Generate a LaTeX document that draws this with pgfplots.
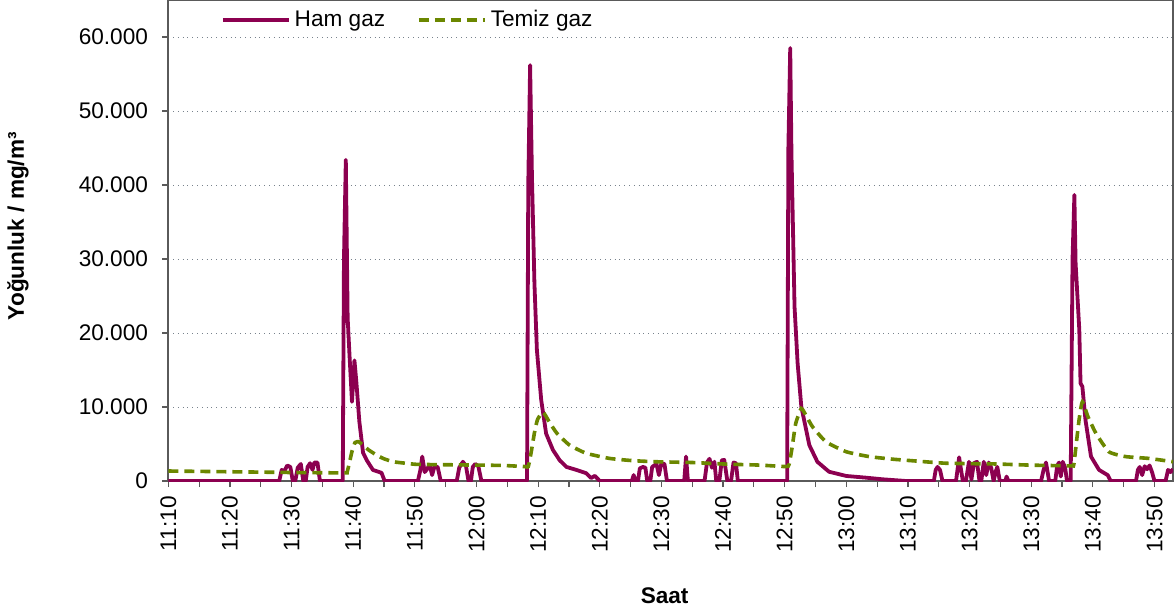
\documentclass[border=0pt]{standalone}
\usepackage{pgfplots}
\pgfplotsset{compat=1.18}
\usepackage{fontspec}
\setmainfont{Liberation Sans}
\definecolor{hamc}{RGB}{140,0,80}
\definecolor{temc}{RGB}{107,135,0}
\definecolor{axc}{RGB}{90,90,90}
\definecolor{gridc}{RGB}{120,130,140}
\begin{document}
\begin{tikzpicture}
\begin{axis}[
  scale only axis,
  width=502.35pt, height=240.5pt,
  xmin=0, xmax=163, ymin=0, ymax=65000,
  font=\fontsize{11.3}{13.5}\selectfont,
  axis line style={draw=axc, line width=0.8pt},
  tick style={draw=axc, line width=0.6pt},
  tick align=outside,
  major tick length=3pt, minor tick length=3pt,
  xtick={0,10,...,160},
  xticklabels={11:10,11:20,11:30,11:40,11:50,12:00,12:10,12:20,12:30,12:40,12:50,13:00,13:10,13:20,13:30,13:40,13:50},
  minor xtick={5,15,...,165},
  xticklabel style={rotate=90, anchor=east, inner sep=1pt, xshift=-3.5pt},
  ytick={0,10000,...,60000},
  yticklabels={0,10.000,20.000,30.000,40.000,50.000,60.000},
  yticklabel style={inner sep=2pt, xshift=-5pt},
  ymajorgrids,
  major grid style={draw=gridc, dotted, line width=0.5pt},
  xlabel={\bfseries Saat},
  ylabel={\bfseries Yoğunluk / mg/m³},
  xlabel style={at={(axis description cs:0.494,-0.239)}, anchor=center},
  ylabel style={at={(axis description cs:-0.1496,0.53)}, anchor=center},
  legend columns=2,
  legend style={draw=none, fill=none, at={(axis description cs:0.046,0.958)}, anchor=west,
    /tikz/every even column/.append style={column sep=14pt},
    font=\fontsize{11.3}{13.5}\selectfont},
  legend image code/.code={\draw[#1] (0pt,0pt) -- (33pt,0pt);},
  legend cell align=left,
]
\addplot[hamc, line width=1.9pt, line join=round] coordinates {
(0,0)(18,0)(18.4,1500)(18.8,1300)(19.3,2100)(19.8,1900)(20.2,0)(20.6,0)(21.0,1800)(21.5,2300)(21.9,0)(22.3,0)(22.6,1900)(23.0,2400)(23.4,1500)(23.7,2500)(24.2,2500)(24.6,0)
(28.3,0)(28.5,30000)(28.8,43400)(29.1,22000)(29.4,17000)(29.8,10700)(30.2,16300)(30.5,13500)(31.0,8000)(31.6,3800)(32.2,2800)(33.2,1500)(34.6,1100)(35.1,0)
(40.5,0)(40.9,1500)(41.2,3300)(41.6,1200)(41.9,1500)(42.4,2200)(42.8,800)(43.2,2000)(43.7,1900)(44.2,0)(46.8,0)(47.2,1800)(47.8,2600)(48.3,2000)(48.7,0)(49.1,0)(49.4,1900)(49.8,2300)(50.3,2000)(50.8,0)
(58.2,0)(58.4,40000)(58.7,56200)(59.0,41100)(59.4,26750)(59.8,17700)(60.5,10950)(61.3,6400)(62.4,4200)(63.5,2800)(64.6,1900)(66.2,1500)(67.8,1050)(68.6,400)(69.2,700)(70,0)
(75.2,0)(75.5,800)(75.8,0)(76.2,0)(76.5,1700)(77.0,1900)(77.4,1800)(77.7,0)(78.2,0)(78.5,1900)(79.2,2300)(79.6,800)(80.0,2400)(80.5,2300)(80.9,0)(83.7,0)(84.0,3300)(84.3,0)
(87.0,0)(87.4,2500)(87.8,3000)(88.2,1800)(88.6,2600)(88.9,0)(89.4,0)(89.8,2800)(90.2,2850)(90.7,0)(91.3,0)(91.7,2500)(92.1,2400)(92.4,0)
(100.4,0)(100.6,45000)(100.9,58500)(101.1,44300)(101.6,23550)(102.1,15900)(102.7,10050)(104.0,4850)(105.3,2600)(107.2,1250)(110,680)(113.2,450)(115.9,230)(119.7,0)
(124.2,0)(124.5,1500)(124.8,1900)(125.2,1500)(125.6,0)(127.8,0)(128.3,3200)(128.9,0)(129.4,0)(129.9,2600)(130.3,200)(130.7,2400)(131.2,2600)(131.6,0)(131.9,0)(132.3,2600)(132.7,800)(133.1,2500)(133.5,1800)(133.9,0)(134.2,1200)(134.5,1900)(134.9,0)(135.8,0)(136.0,600)(136.3,0)
(141.6,0)(142.0,1500)(142.4,2500)(142.9,0)(143.9,0)(144.2,2000)(144.5,2500)(144.8,600)(145.1,2600)(145.5,1800)(145.8,0)
(146.4,0)(146.7,30000)(147.0,38650)(147.2,29400)(147.8,20400)(148.0,13200)(148.3,12750)(148.8,8250)(149.7,3300)(151.0,1500)(152.4,800)(152.9,0)
(157.0,0)(157.3,1500)(157.6,1900)(158.0,800)(158.4,2000)(158.8,1600)(159.2,2100)(159.6,1200)(160.0,0)(161.8,0)(162.2,1500)(162.6,1200)(163,1600)
};
\addlegendentry{Ham gaz}
\addplot[temc, line width=1.8pt, dash pattern=on 5pt off 3pt, smooth, tension=0.3] coordinates {
(0,1350)(10,1250)(20,1150)(28.5,1100)(29.0,1200)(29.4,2500)(29.8,4000)(30.3,5200)(30.9,5300)(31.5,4900)(32.5,4200)(33.8,3500)(35,3000)(36.5,2600)(38.5,2400)(40.3,2250)(45,2200)(50,2150)(54.3,2100)(57.9,1950)
(58.4,1950)(58.9,4000)(59.4,6500)(59.9,8300)(60.8,9300)(61.8,8000)(63.0,6500)(65.1,4850)(67.8,3750)(71.6,3050)(75.4,2750)(79.2,2600)(85,2500)(90,2300)(95.9,2150)(100.2,1950)
(100.7,2200)(101.2,4500)(101.8,7800)(102.7,9800)(103.5,8800)(104.5,7350)(106.7,5300)(110,3950)(113.7,3300)(117.5,2950)(121.3,2700)(126.2,2400)(134.3,2300)(139.7,2150)(146.4,2050)
(146.9,2200)(147.3,5000)(147.8,8500)(148.3,10700)(149.2,8700)(150.5,6450)(152.6,3950)(155.3,3300)(159.1,3050)(163,2600)
};
\addlegendentry{Temiz gaz}
\end{axis}
\pgfresetboundingbox
\path (-84.15pt,-65.5pt) rectangle (502.85pt,240.5pt);
\end{tikzpicture}
\end{document}
